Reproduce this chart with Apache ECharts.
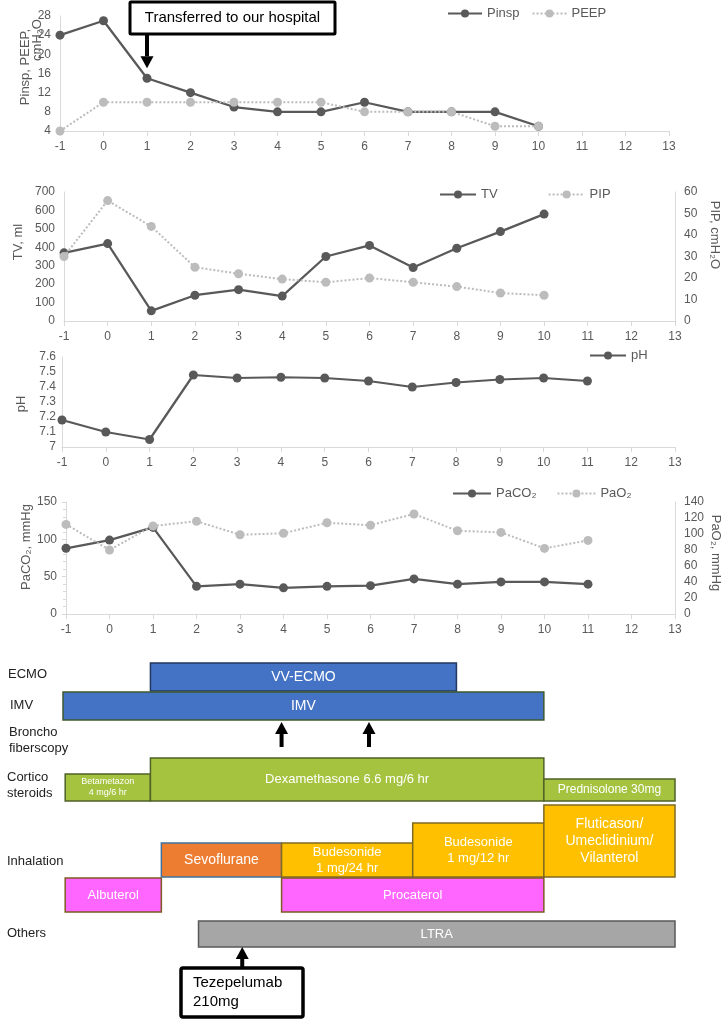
<!DOCTYPE html>
<html><head><meta charset="utf-8">
<script src="https://cdn.jsdelivr.net/npm/echarts@6/dist/echarts.min.js"></script>
<style>html,body{margin:0;padding:0;background:#fff}#c{width:724px;height:1020px}</style>
</head><body><div id="c"></div>
<script>
// ---------- data ----------
const days = [-1,0,1,2,3,4,5,6,7,8,9,10,11];
const pinsp = [24,27,15,12,9,8,8,10,8,8,8,5];
const peep  = [4,10,10,10,10,10,10,8,8,8,5,5];
const tv    = [370,420,55,140,170,135,350,410,290,395,485,580];
const pip   = [30,56,44,25,22,19.5,18,20,18,16,13,12];
const ph    = [7.18,7.10,7.05,7.48,7.46,7.465,7.46,7.44,7.40,7.43,7.45,7.46,7.44];
const paco2 = [88,99,116,37,40,35,37,38,47,40,43,43,40];
const pao2  = [112,80,110,116,99,101,114,111,125,104,102,82,92];

// treatment timeline (days; lane units for vertical placement)
const txLabels = ['VV-ECMO','IMV','Betametazon\n4 mg/6 hr','Dexamethasone 6.6 mg/6 hr','Prednisolone 30mg',
  'Sevoflurane','Budesonide\n1 mg/24 hr','Budesonide\n1 mg/12 hr','Fluticason/\nUmeclidinium/\nVilanterol',
  'Albuterol','Procaterol','LTRA'];
const txStart = [1,-1,-0.95,1,10,1.25,4,7,10,-0.95,4,2.1];
const txEnd   = [8,10,1,10,13,4,7,10,13,1.25,10,13];
const txTop   = [0.3,3.2,11.4,9.8,11.9,18.3,18.3,16.3,14.5,21.8,21.8,26.1];
const txBot   = [3.1,6.0,14.1,14.1,14.1,21.7,21.7,21.7,21.7,25.2,25.2,28.7];
const txKind  = ['ecmo','imv','steroid','steroid','steroid','sevo','ics','ics','ics','saba','saba','ltra'];
const rowLabels = ['ECMO','IMV','Broncho\nfiberscopy','Cortico\nsteroids','Inhalation','Others'];
const bronchoDays = [4,6];
const tezeDay = 3.1;
const transferDay = 1;

// ---------- styles ----------
const FF = '"Liberation Sans", Arial, sans-serif';
const DARK = '#595959', LIGHT = '#bcbcbc', AX = '#d9d9d9', LBL = '#595959';
const kindStyle = {
  ecmo:{fill:'#4472c4',stroke:'#22385f'}, imv:{fill:'#4472c4',stroke:'#3d5a2e'},
  steroid:{fill:'#a5c33f',stroke:'#4f6228'}, sevo:{fill:'#ed7d31',stroke:'#41719c'},
  ics:{fill:'#ffc000',stroke:'#7f6a22'}, saba:{fill:'#ff66ff',stroke:'#7f5a22'},
  ltra:{fill:'#a6a6a6',stroke:'#595959'}
};
const labelFont = {'Betametazon\n4 mg/6 hr':[9,11],'Prednisolone 30mg':[12,14],'VV-ECMO':[14,16],'IMV':[14,16],
  'Sevoflurane':[14,16],'Fluticason/\nUmeclidinium/\nVilanterol':[14,17]};

const pairs = (ys)=> ys.map((v,i)=>[days[i], v]);

function xAxis(gi){
  return {type:'value', gridIndex:gi, min:-1, max:13, interval:1,
    axisLine:{onZero:false, lineStyle:{color:AX}}, axisTick:{show:true,length:5,lineStyle:{color:AX}},
    axisLabel:{color:LBL,fontSize:12,fontFamily:FF,margin:10}, splitLine:{show:false}};
}
function yAxis(gi, o){
  return Object.assign({type:'value', gridIndex:gi, axisLine:{show:true,onZero:false,lineStyle:{color:AX}},
    axisTick:{show:false}, axisLabel:{color:LBL,fontSize:12,fontFamily:FF,margin:9}, splitLine:{show:false}}, o);
}
function lineSeries(name, data, xi, yi, dark){
  return {type:'line', name, data, xAxisIndex:xi, yAxisIndex:yi, symbol:'circle', symbolSize:9,
    itemStyle:{color: dark?DARK:LIGHT},
    lineStyle:{color: dark?DARK:LIGHT, width: dark?2.25:2, type: dark?'solid':'dotted'}, z: dark?2:3};
}
function renderArrow(params, api){
  const base = api.coord([api.value(0), api.value(1)]);
  const tip = api.coord([api.value(0), api.value(2)]);
  const dir = tip[1] < base[1] ? -1 : 1;
  const headLen = 12, headW = 6.5, shaftW = 4;
  const hb = tip[1] - dir*headLen;
  return {type:'group', children:[
    {type:'rect', shape:{x:base[0]-shaftW/2, y:Math.min(base[1],hb), width:shaftW, height:Math.abs(hb-base[1])}, style:{fill:'#000'}},
    {type:'polygon', shape:{points:[[tip[0],tip[1]],[tip[0]-headW,hb],[tip[0]+headW,hb]]}, style:{fill:'#000'}}
  ]};
}
function renderBar(params, api){
  const i = params.dataIndex;
  const p0 = api.coord([api.value(0), api.value(2)]);
  const p1 = api.coord([api.value(1), api.value(3)]);
  const st = kindStyle[txKind[i]];
  const f = labelFont[txLabels[i]] || [13,16];
  return {type:'rect', shape:{x:p0[0], y:p0[1], width:p1[0]-p0[0], height:p1[1]-p0[1]},
    style:{fill:st.fill, stroke:st.stroke, lineWidth:1.5},
    textContent:{style:{text:txLabels[i], fill:'#ffffff', fontSize:f[0], lineHeight:f[1], fontFamily:FF, align:'center', verticalAlign:'middle'}},
    textConfig:{position:'inside'}};
}
function legend(names, left, top, gap, w){
  return {data:names, left, top, itemWidth:w||36, itemHeight:10, itemGap:gap, padding:0,
    textStyle:{color:LBL, fontSize:13, fontFamily:FF}, selectedMode:false};
}
function rotText(text, x, y, rot){
  return {type:'text', x, y, rotation:rot, style:{text, fill:LBL, fontSize:13, fontFamily:FF, align:'center', verticalAlign:'middle'}};
}

const grids = [
  {left:60, right:55, top:16, height:115},
  {left:64, right:49, top:192, height:129},
  {left:62, right:49, top:357, height:90},
  {left:66, right:49, top:502, height:112},
  {left:63, right:49, top:660, height:360}
];

const graphic = [
  rotText('Pinsp, PEEP,', 25.5, 67, Math.PI/2),
  rotText('cmH₂O', 37, 40, Math.PI/2),
  rotText('TV, ml', 18, 242, Math.PI/2),
  rotText('PIP, cmH₂O', 715, 235, -Math.PI/2),
  rotText('pH', 21, 404, Math.PI/2),
  rotText('PaCO₂, mmHg', 26, 547, Math.PI/2),
  rotText('PaO₂, mmHg', 716, 553, -Math.PI/2),
  {type:'rect', shape:{x:130, y:2, width:205, height:32, r:1}, style:{fill:'#fff', stroke:'#000', lineWidth:3}, z:10},
  {type:'text', x:232.5, y:18, z:11, style:{text:'Transferred to our hospital', fill:'#000', fontSize:15, fontFamily:FF, align:'center', verticalAlign:'middle'}},
  {type:'rect', shape:{x:181, y:968, width:122, height:49, r:2}, style:{fill:'#fff', stroke:'#000', lineWidth:3.5}, z:10},
  {type:'text', x:193, y:992.5, z:11, style:{text:'Tezepelumab\n210mg', fill:'#000', fontSize:15, lineHeight:19, fontFamily:FF, align:'left', verticalAlign:'middle'}}
];
const rowPos = [[8,674],[10,705],[9,740],[7,785.5],[7,861],[7,933]];
rowLabels.forEach((t,i)=>{
  graphic.push({type:'text', x:rowPos[i][0], y:rowPos[i][1], style:{text:t, fill:'#222', fontSize:13, lineHeight:16, fontFamily:FF, align:'left', verticalAlign:'middle'}});
});

const option = {
  animation:false,
  backgroundColor:'#fff',
  grid: grids,
  xAxis: [xAxis(0), xAxis(1), xAxis(2), xAxis(3),
    {type:'value', gridIndex:4, min:-1, max:13, show:false}],
  yAxis: [
    yAxis(0,{min:4,max:28,interval:4}),
    yAxis(1,{min:0,max:700,interval:100}),
    yAxis(1,{min:0,max:60,interval:10,position:'right'}),
    yAxis(2,{min:7,max:7.6,interval:0.1,axisLabel:{color:LBL,fontSize:12,fontFamily:FF,margin:6}}),
    yAxis(3,{min:0,max:150,interval:50,axisTick:{show:true,length:4,lineStyle:{color:AX}},
      minorTick:{show:true,splitNumber:5,length:3,lineStyle:{color:AX}}}),
    yAxis(3,{min:0,max:140,interval:20,position:'right'}),
    {type:'value', gridIndex:4, min:0, max:36, inverse:true, show:false}
  ],
  legend: [
    legend(['Pinsp','PEEP'], 447, 7, 12, 34),
    legend(['TV','PIP'], 439, 188, 50, 36),
    legend(['pH'], 589, 349, 10, 36),
    legend(['PaCO₂','PaO₂'], 452, 487, 20, 38)
  ],
  series: [
    lineSeries('Pinsp', pairs(pinsp), 0, 0, true),
    lineSeries('PEEP', pairs(peep), 0, 0, false),
    lineSeries('TV', pairs(tv), 1, 1, true),
    lineSeries('PIP', pairs(pip), 1, 2, false),
    lineSeries('pH', pairs(ph), 2, 3, true),
    lineSeries('PaCO₂', pairs(paco2), 3, 4, true),
    lineSeries('PaO₂', pairs(pao2), 3, 5, false),
    {type:'custom', xAxisIndex:4, yAxisIndex:6, renderItem:renderBar,
      data: txLabels.map((l,i)=>[txStart[i], txEnd[i], txTop[i], txBot[i]])},
    {type:'custom', xAxisIndex:4, yAxisIndex:6, renderItem:renderArrow,
      data: bronchoDays.map(d=>[d, 8.7, 6.2]).concat([[tezeDay, 30.7, 28.7]])},
    {type:'custom', xAxisIndex:0, yAxisIndex:0, renderItem:renderArrow, clip:false, z:12,
      data: [[transferDay, 24.2, 17.1]]}
  ],
  graphic
};
const chart = echarts.init(document.getElementById('c'), null, {renderer:'canvas'});
chart.setOption(option);
</script></body></html>
